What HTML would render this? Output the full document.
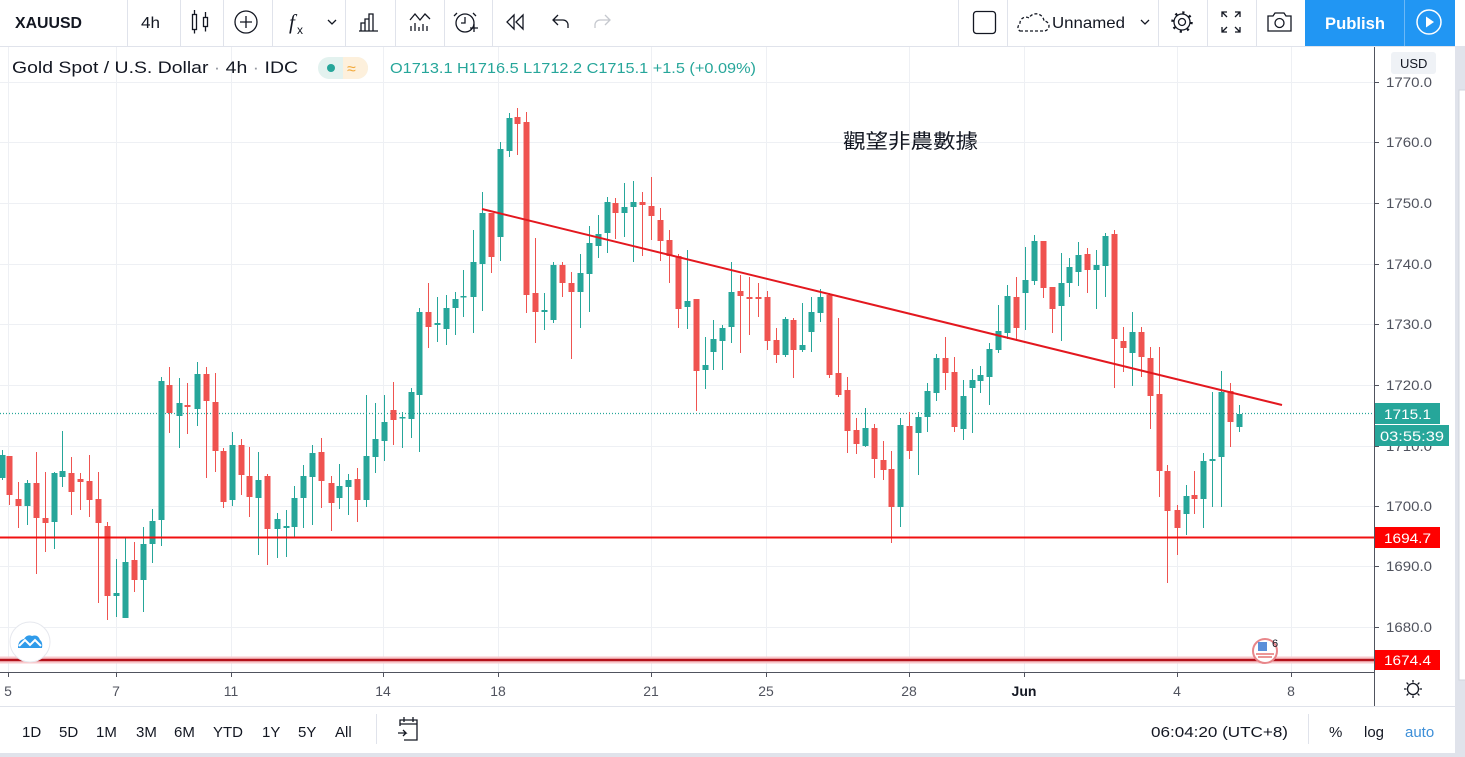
<!DOCTYPE html>
<html><head><meta charset="utf-8"><style>
html,body{margin:0;padding:0;background:#fff;width:1465px;height:757px;overflow:hidden}
svg{display:block}
text{font-family:"Liberation Sans","Noto Sans CJK TC",sans-serif}
</style></head><body>
<svg width="1465" height="757" viewBox="0 0 1465 757" xmlns="http://www.w3.org/2000/svg">
<rect x="0" y="0" width="1465" height="757" fill="#fff"/>
<rect x="1455" y="46" width="10" height="711" fill="#e0e3eb"/>
<rect x="1459" y="90" width="7" height="590" fill="#fff" stroke="#d1d4dc"/>
<rect x="0" y="753" width="1465" height="4" fill="#e0e3eb"/>

<g stroke="#eef0f4" stroke-width="1">
<path d="M0 82.5H1374M0 142.5H1374M0 203.5H1374M0 264.5H1374M0 324.5H1374M0 385.5H1374M0 446.5H1374M0 506.5H1374M0 566.5H1374M0 627.5H1374"/>
<path d="M8.5 47V672M116.5 47V672M231.5 47V672M383.5 47V672M498.5 47V672M651.5 47V672M766.5 47V672M909.5 47V672M1024.5 47V672M1177.5 47V672M1291.5 47V672"/>
</g>

<line x1="0" y1="413.5" x2="1374" y2="413.5" stroke="#26a69a" stroke-width="1.2" stroke-dasharray="1 2"/>

<g stroke="#26a69a" stroke-width="1" fill="none">
<path d="M2.5 450V480 M27.5 480V525 M54.5 472V549 M62.5 431V487 M116.5 559V617 M125.5 538V618 M143.5 527V612 M152.5 509V563 M161.5 377V546 M179.5 378V448 M197.5 362V426 M232.5 432V506 M258.5 452V555 M277.5 513V558 M286.5 510V557 M294.5 486V537 M303.5 465V528 M312.5 445V525 M339.5 464V509 M348.5 474V515 M366.5 395V507 M375.5 403V473 M384.5 395V461 M402.5 412V448 M411.5 388V438 M419.5 308V452 M437.5 297V342 M446.5 295V345 M455.5 292V335 M463.5 270V317 M473.5 230V333 M482.5 192V311 M500.5 142V261 M509.5 113V157 M544.5 293V330 M553.5 262V323 M580.5 254V328 M589.5 226V312 M598.5 215V258 M607.5 197V253 M624.5 183V237 M633.5 181V262 M687.5 250V329 M705.5 337V389 M713.5 320V370 M722.5 325V370 M731.5 262V343 M785.5 317V357 M802.5 303V352 M811.5 297V352 M820.5 289V322 M865.5 408V447 M900.5 418V527 M918.5 412V475 M927.5 383V432 M936.5 354V401 M963.5 380V440 M972.5 369V433 M980.5 366V393 M989.5 343V405 M998.5 305V353 M1007.5 285V339 M1025.5 247V330 M1034.5 235V285 M1061.5 253V341 M1069.5 258V297 M1078.5 242V286 M1096.5 250V309 M1105.5 233V297 M1132.5 312V386 M1186.5 485V535 M1203.5 453V528 M1212.5 392V507 M1221.5 371V507 M1239.5 405V432"/>
</g>
<path fill="#26a69a" d="M-0.5 455h6v23h-6z M24.5 483h6v23h-6z M51.5 473h6v49h-6z M59.5 471h6v6h-6z M113.5 593h6v3h-6z M122.5 562h6v56h-6z M140.5 544h6v36h-6z M149.5 521h6v23h-6z M158.5 381h6v139h-6z M176.5 403h6v13h-6z M194.5 374h6v35h-6z M229.5 445h6v55h-6z M255.5 480h6v18h-6z M274.5 519h6v10h-6z M283.5 526h6v2h-6z M291.5 498h6v29h-6z M300.5 476h6v22h-6z M309.5 453h6v24h-6z M336.5 486h6v12h-6z M345.5 480h6v7h-6z M363.5 456h6v44h-6z M372.5 439h6v18h-6z M381.5 422h6v19h-6z M399.5 417h6v1.5h-6z M408.5 392h6v27h-6z M416.5 312h6v83h-6z M434.5 323h6v2h-6z M443.5 308h6v21h-6z M452.5 299h6v9h-6z M460.5 296h6v1.5h-6z M470.5 262h6v35h-6z M479.5 213h6v51h-6z M497.5 149h6v88h-6z M506.5 118h6v33h-6z M541.5 310h6v2h-6z M550.5 265h6v55h-6z M577.5 273h6v19h-6z M586.5 243h6v31h-6z M595.5 234h6v12h-6z M604.5 202h6v31h-6z M621.5 207h6v6h-6z M630.5 202h6v5h-6z M684.5 301h6v6h-6z M702.5 365h6v5h-6z M710.5 339h6v13h-6z M719.5 328h6v13h-6z M728.5 292h6v35h-6z M782.5 319h6v36h-6z M799.5 345h6v5h-6z M808.5 312h6v20h-6z M817.5 297h6v16h-6z M862.5 428h6v18h-6z M897.5 425h6v82h-6z M915.5 417h6v16h-6z M924.5 391h6v26h-6z M933.5 358h6v35h-6z M960.5 396h6v33h-6z M969.5 380h6v8h-6z M977.5 375h6v6h-6z M986.5 349h6v28h-6z M995.5 331h6v19h-6z M1004.5 296h6v37h-6z M1022.5 280h6v13h-6z M1031.5 241h6v40h-6z M1058.5 283h6v23h-6z M1066.5 267h6v16h-6z M1075.5 255h6v17h-6z M1093.5 265h6v5h-6z M1102.5 236h6v30h-6z M1129.5 332h6v21h-6z M1183.5 496h6v18h-6z M1200.5 461h6v38h-6z M1209.5 459h6v2h-6z M1218.5 392h6v65h-6z M1236.5 414h6v13h-6z"/>

<g stroke="#ef5350" stroke-width="1" fill="none">
<path d="M9.5 456V505 M18.5 482V528 M36.5 452V574 M45.5 472V552 M71.5 457V515 M80.5 473V510 M89.5 455V517 M98.5 472V603 M107.5 522V620 M134.5 542V592 M169.5 367V433 M187.5 383V434 M206.5 367V478 M215.5 373V472 M223.5 448V508 M241.5 439V495 M249.5 447V517 M267.5 474V565 M321.5 438V508 M331.5 476V531 M357.5 468V522 M393.5 382V445 M428.5 283V348 M491.5 213V273 M517.5 108V155 M526.5 112V313 M535.5 238V343 M562.5 262V297 M571.5 272V359 M615.5 198V239 M642.5 192V256 M651.5 177V240 M660.5 208V261 M669.5 230V283 M678.5 254V328 M696.5 299V411 M740.5 275V353 M749.5 277V335 M758.5 283V317 M767.5 291V350 M776.5 328V363 M793.5 318V378 M829.5 293V378 M838.5 318V397 M847.5 377V453 M856.5 418V454 M874.5 424V478 M883.5 441V480 M891.5 451V543 M909.5 412V459 M945.5 337V390 M954.5 357V432 M1016.5 277V341 M1043.5 241V298 M1052.5 287V333 M1087.5 248V293 M1114.5 230V388 M1123.5 327V372 M1141.5 327V377 M1150.5 347V429 M1159.5 347V497 M1167.5 465V583 M1177.5 505V555 M1194.5 471V514 M1230.5 383V447"/>
</g>
<path fill="#ef5350" d="M6.5 456h6v39h-6z M15.5 499h6v7h-6z M33.5 483h6v35h-6z M42.5 518h6v5h-6z M68.5 473h6v19h-6z M77.5 479h6v3h-6z M86.5 481h6v19h-6z M95.5 499h6v24h-6z M104.5 526h6v70h-6z M131.5 560h6v20h-6z M166.5 385h6v28h-6z M184.5 405h6v2h-6z M203.5 374h6v27h-6z M212.5 402h6v49h-6z M220.5 451h6v51h-6z M238.5 445h6v30h-6z M246.5 476h6v21h-6z M264.5 476h6v53h-6z M318.5 452h6v29h-6z M328.5 483h6v20h-6z M354.5 479h6v21h-6z M390.5 410h6v10h-6z M425.5 312h6v15h-6z M488.5 213h6v44h-6z M514.5 117h6v7h-6z M523.5 122h6v173h-6z M532.5 293h6v19h-6z M559.5 265h6v18h-6z M568.5 283h6v9h-6z M612.5 203h6v10h-6z M639.5 202h6v3h-6z M648.5 206h6v10h-6z M657.5 220h6v21h-6z M666.5 240h6v16h-6z M675.5 256h6v53h-6z M693.5 299h6v72h-6z M737.5 291h6v5h-6z M746.5 297h6v2h-6z M755.5 297h6v2h-6z M764.5 297h6v44h-6z M773.5 340h6v15h-6z M790.5 320h6v30h-6z M826.5 295h6v80h-6z M835.5 373h6v22h-6z M844.5 390h6v41h-6z M853.5 430h6v14h-6z M871.5 428h6v31h-6z M880.5 460h6v10h-6z M888.5 469h6v38h-6z M906.5 426h6v25h-6z M942.5 358h6v15h-6z M951.5 372h6v55h-6z M1013.5 297h6v31h-6z M1040.5 241h6v47h-6z M1049.5 287h6v22h-6z M1084.5 254h6v16h-6z M1111.5 234h6v105h-6z M1120.5 341h6v7h-6z M1138.5 332h6v25h-6z M1147.5 358h6v38h-6z M1156.5 394h6v77h-6z M1164.5 471h6v40h-6z M1174.5 510h6v18h-6z M1191.5 495h6v4h-6z M1227.5 391h6v31h-6z"/>

<line x1="482" y1="209" x2="1282" y2="405" stroke="#e3181f" stroke-width="2"/>
<line x1="0" y1="537.5" x2="1374" y2="537.5" stroke="#f01010" stroke-width="2"/>
<line x1="0" y1="660" x2="1374" y2="660" stroke="#f8c9cc" stroke-width="7"/>
<line x1="0" y1="660" x2="1374" y2="660" stroke="#b5121b" stroke-width="2.5"/>

<text x="843" y="148" font-size="20" fill="#131722" textLength="135" lengthAdjust="spacingAndGlyphs">觀望非農數據</text>

<text x="12" y="73" font-size="17" fill="#131722" textLength="286" lengthAdjust="spacingAndGlyphs">Gold Spot / U.S. Dollar <tspan fill="#9598a1">·</tspan> 4h <tspan fill="#9598a1">·</tspan> IDC</text>
<rect x="318" y="57" width="50" height="22" rx="11" fill="#e3f2ef"/>
<path d="M343 57h14a11 11 0 0 1 0 22h-14z" fill="#fdf0dc"/>
<circle cx="331" cy="68" r="4" fill="#26a69a"/>
<text x="347" y="74" font-size="16" fill="#f2a93b">≈</text>
<text x="390" y="73" font-size="14.5" fill="#26a69a" textLength="366" lengthAdjust="spacingAndGlyphs">O1713.1  H1716.5  L1712.2  C1715.1  +1.5 (+0.09%)</text>

<circle cx="1265" cy="651" r="12" fill="#fff" stroke="#e8868a" stroke-width="2"/>
<rect x="1258" y="642" width="9" height="9" fill="#5b8fd9"/>
<path d="M1256 654h18M1258 657h14" stroke="#e57373" stroke-width="1.5"/>
<text x="1272" y="647" font-size="11" fill="#131722">6</text>

<circle cx="30" cy="642" r="20" fill="#fff" stroke="#e6e8ee"/>
<path d="M18 648 Q18 640 24 639 Q27 634 32 636 Q38 634 40 640 Q43 642 42 648 Z" fill="#2f9bea"/>
<path d="M19 646 L25 640 L30 645 L35 640 L41 646" stroke="#fff" stroke-width="2" fill="none"/>

<rect x="1375" y="47" width="80" height="659" fill="#fff"/>
<line x1="1374.5" y1="47" x2="1374.5" y2="706" stroke="#50535e" stroke-width="1"/>
<g stroke="#50535e"><path d="M1374 82.5h5M1374 142.5h5M1374 203.5h5M1374 264.5h5M1374 324.5h5M1374 385.5h5M1374 446.5h5M1374 506.5h5M1374 566.5h5M1374 627.5h5"/></g>
<g font-size="14" fill="#50535e">
<text x="1386" y="87" textLength="46" lengthAdjust="spacingAndGlyphs">1770.0</text>
<text x="1386" y="147" textLength="46" lengthAdjust="spacingAndGlyphs">1760.0</text>
<text x="1386" y="208" textLength="46" lengthAdjust="spacingAndGlyphs">1750.0</text>
<text x="1386" y="269" textLength="46" lengthAdjust="spacingAndGlyphs">1740.0</text>
<text x="1386" y="329" textLength="46" lengthAdjust="spacingAndGlyphs">1730.0</text>
<text x="1386" y="390" textLength="46" lengthAdjust="spacingAndGlyphs">1720.0</text>
<text x="1386" y="451" textLength="46" lengthAdjust="spacingAndGlyphs">1710.0</text>
<text x="1386" y="511" textLength="46" lengthAdjust="spacingAndGlyphs">1700.0</text>
<text x="1386" y="571" textLength="46" lengthAdjust="spacingAndGlyphs">1690.0</text>
<text x="1386" y="632" textLength="46" lengthAdjust="spacingAndGlyphs">1680.0</text>
</g>
<rect x="1391" y="52" width="45" height="22" rx="3" fill="#eff2f6"/>
<text x="1400" y="68" font-size="13" fill="#131722">USD</text>
<rect x="1375" y="403" width="65" height="21" fill="#26a69a"/>
<text x="1384" y="419" font-size="14" fill="#fff" textLength="47" lengthAdjust="spacingAndGlyphs">1715.1</text>
<rect x="1375" y="425" width="74" height="21" fill="#26a69a"/>
<text x="1380" y="441" font-size="14" fill="#fff" textLength="64" lengthAdjust="spacingAndGlyphs">03:55:39</text>
<rect x="1375" y="527" width="65" height="21" fill="#ff0000"/>
<text x="1384" y="543" font-size="14" fill="#fff" textLength="47" lengthAdjust="spacingAndGlyphs">1694.7</text>
<rect x="1375" y="650" width="65" height="20" fill="#ff0000"/>
<text x="1384" y="665" font-size="14" fill="#fff" textLength="47" lengthAdjust="spacingAndGlyphs">1674.4</text>

<rect x="0" y="673" width="1374" height="33" fill="#fff"/>
<line x1="0" y1="672.5" x2="1374" y2="672.5" stroke="#50535e"/>
<g stroke="#50535e"><path d="M8.5 672v5M116.5 672v5M231.5 672v5M383.5 672v5M498.5 672v5M651.5 672v5M766.5 672v5M909.5 672v5M1024.5 672v5M1177.5 672v5M1291.5 672v5"/></g>
<g font-size="14" fill="#50535e" text-anchor="middle">
<text x="8" y="696">5</text><text x="116" y="696">7</text><text x="231" y="696">11</text><text x="383" y="696">14</text><text x="498" y="696">18</text><text x="651" y="696">21</text><text x="766" y="696">25</text><text x="909" y="696">28</text><text x="1024" y="696" font-weight="bold" fill="#131722">Jun</text><text x="1177" y="696">4</text><text x="1291" y="696">8</text>
</g>
<g stroke="#131722" stroke-width="1.3" fill="none">
<circle cx="1413" cy="689" r="5.5"/>
<path d="M1413 680v2.5M1413 695.5v2.5M1404 689h2.5M1419.5 689h2.5M1406.6 682.6l1.8 1.8M1417.6 693.6l1.8 1.8M1406.6 695.4l1.8-1.8M1417.6 684.4l1.8-1.8"/>
</g>
<line x1="0" y1="706.5" x2="1455" y2="706.5" stroke="#e0e3eb"/>

<g font-size="15" fill="#131722">
<text x="22" y="737">1D</text><text x="59" y="737">5D</text><text x="96" y="737">1M</text><text x="136" y="737">3M</text><text x="174" y="737">6M</text><text x="213" y="737">YTD</text><text x="262" y="737">1Y</text><text x="298" y="737">5Y</text><text x="335" y="737">All</text>
<text x="1151" y="737" textLength="137" lengthAdjust="spacingAndGlyphs">06:04:20 (UTC+8)</text>
<text x="1329" y="737">%</text><text x="1364" y="737">log</text>
<text x="1405" y="737" fill="#3d8fd8">auto</text>
</g>
<path d="M376.5 714v30M1308.5 714v30" stroke="#e0e3eb"/>
<g stroke="#131722" stroke-width="1.3" fill="none">
<path d="M400 726v-6h17v20h-13M400 724h17M404 717v5M413 717v5M398 733h8l-3-3M406 733l-3 3"/>
</g>

<line x1="0" y1="46.5" x2="1455" y2="46.5" stroke="#e0e3eb"/>
<g stroke="#e0e3eb"><path d="M127.5 0v46M180.5 0v46M223.5 0v46M272.5 0v46M345.5 0v46M395.5 0v46M444.5 0v46M492.5 0v46M958.5 0v46M1007.5 0v46M1158.5 0v46M1207.5 0v46M1256.5 0v46"/></g>
<text x="15" y="28" font-size="16" font-weight="bold" fill="#131722" textLength="67" lengthAdjust="spacingAndGlyphs">XAUUSD</text>
<text x="141" y="28" font-size="16" fill="#131722" textLength="19" lengthAdjust="spacingAndGlyphs">4h</text>
<g stroke="#131722" stroke-width="1.3" fill="none">
<rect x="192.5" y="14.5" width="4" height="15"/><path d="M194.5 10v4.5M194.5 29.5v4"/>
<rect x="203.5" y="17.5" width="4" height="9"/><path d="M205.5 12v5.5M205.5 26.5v5"/>
<circle cx="246" cy="22" r="11"/><path d="M246 16v12M240 22h12"/>
<path d="M328 20l4 4 4-4"/><path d="M1141 20l4 4 4-4"/>
<path d="M359 31h19M361 31v-8h4v8M365 31v-12h4v12M369 31v-17h4v17"/>
<path d="M410 20l5-6 5 6 5-6 5 5M411 31v-5M415 31v-8M419 31v-4M423 31v-7M427 31v-5"/>
<circle cx="465" cy="23" r="9"/><path d="M465 17v6h-4M457 13l-3 3M473 13l3 3M470 28h8M474 24v8"/>
<path d="M514 15l-7 7 7 7zM523 15l-7 7 7 7z"/>
<path d="M558 15l-5 5 5 5M553 20h10a5 5 0 0 1 5 5v3"/>
<rect x="973.5" y="11.5" width="22" height="22" rx="3"/>
<path d="M1222 17v-5h5M1222 12l5 5M1240 17v-5h-5M1240 12l-5 5M1222 27v5h5M1222 32l5-5M1240 27v5h-5M1240 32l-5-5"/>
<path d="M1268 16h5l2-3h9l2 3h5v15h-23z"/><circle cx="1279.5" cy="23" r="4.5"/>
</g>
<circle cx="1182" cy="22" r="9.5" fill="none" stroke="#131722" stroke-width="2.5" stroke-dasharray="2.2 5.26"/>
<circle cx="1182" cy="22" r="8" fill="#fff" stroke="#131722" stroke-width="1.3"/>
<circle cx="1182" cy="22" r="3.5" fill="none" stroke="#131722" stroke-width="1.3"/>
<path d="M605 15l5 5-5 5M610 20h-10a5 5 0 0 0-5 5v3" stroke="#c5c8ce" stroke-width="1.3" fill="none"/>
<text x="289" y="29" font-size="21" font-style="italic" fill="#131722" style="font-family:'Liberation Serif',serif">f</text>
<text x="297" y="34" font-size="12" fill="#131722">x</text>
<path d="M1020 31h24a5 5 0 0 0 0-10a8 8 0 0 0-15-3a6 6 0 0 0-9 6a4 4 0 0 0 0 7z" fill="none" stroke="#131722" stroke-width="1.3" stroke-dasharray="3 2"/>
<text x="1052" y="28" font-size="16" fill="#131722" textLength="73" lengthAdjust="spacingAndGlyphs">Unnamed</text>
<rect x="1305" y="0" width="150" height="46" fill="#2196f3"/>
<line x1="1404.5" y1="0" x2="1404.5" y2="46" stroke="#6bb8f7"/>
<text x="1325" y="29" font-size="17" font-weight="bold" fill="#fff" textLength="60" lengthAdjust="spacingAndGlyphs">Publish</text>
<circle cx="1429" cy="22" r="12" fill="none" stroke="#fff" stroke-width="1.5"/>
<path d="M1426 16.5v11l8-5.5z" fill="#fff"/>
</svg>
</body></html>
